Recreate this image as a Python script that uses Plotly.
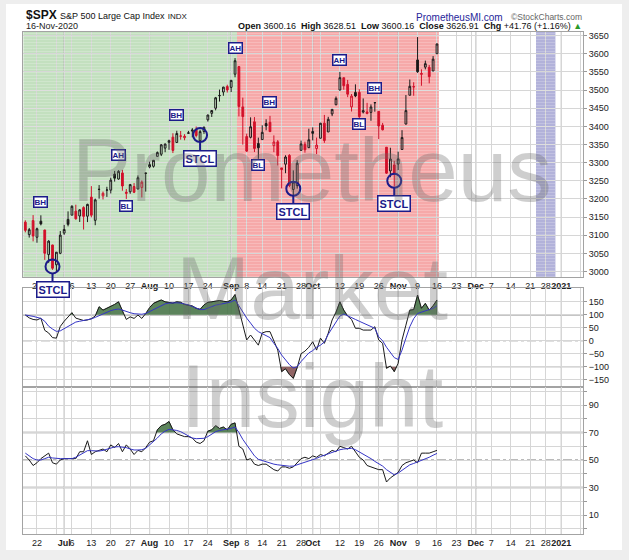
import numpy as np
import pandas as pd
import plotly.graph_objects as go

# ---------------- calendar ----------------
first_day = "2020-06-17"
last_day = "2020-11-16"
axis_last_day = "2021-01-12"
holidays = ["2020-07-03", "2020-09-07", "2020-11-26", "2020-12-25", "2021-01-01"]

# ---------------- daily candles ($SPX) ----------------
opens = [3136.13, 3101.64, 3140.29, 3094.42, 3138.70, 3114.40, 3046.60, 3073.20, 3018.59, 3050.20,
         3105.92, 3143.64, 3155.29, 3166.44, 3153.07, 3176.17, 3152.47, 3205.08, 3141.11, 3225.98,
         3208.36, 3224.21, 3224.29, 3268.52, 3254.86, 3271.64, 3218.58, 3219.84, 3234.27, 3227.22,
         3231.76, 3270.45, 3288.26, 3289.92, 3317.37, 3323.17, 3340.05, 3356.04, 3370.34, 3355.46,
         3372.95, 3368.66, 3380.86, 3387.04, 3392.51, 3360.48, 3386.01, 3418.09, 3435.95, 3449.97,
         3485.14, 3494.69, 3509.73, 3507.44, 3543.76, 3564.74, 3453.60, 3371.88, 3369.82, 3412.56,
         3352.70, 3363.56, 3407.73, 3411.23, 3346.86, 3357.38, 3285.57, 3295.75, 3320.11, 3226.14,
         3236.66, 3333.90, 3350.92, 3341.21, 3385.87, 3338.94, 3367.27, 3408.74, 3384.56, 3434.28,
         3459.67, 3500.02, 3534.01, 3515.47, 3453.72, 3493.50, 3493.66, 3439.38, 3439.91, 3438.50,
         3464.90, 3441.42, 3403.15, 3342.48, 3277.17, 3293.59, 3296.20, 3336.25, 3406.46, 3485.74,
         3508.34, 3583.04, 3543.26, 3563.22, 3562.67, 3552.57, 3600.16]
highs = [3141.16, 3120.00, 3155.53, 3120.92, 3154.90, 3115.01, 3086.25, 3073.73, 3053.89, 3111.51,
         3128.44, 3165.81, 3182.59, 3184.15, 3171.80, 3179.78, 3186.82, 3235.32, 3200.95, 3238.28,
         3220.39, 3233.52, 3258.61, 3277.29, 3279.32, 3279.99, 3227.26, 3241.43, 3243.72, 3264.74,
         3250.92, 3272.17, 3302.73, 3306.84, 3330.77, 3351.03, 3352.54, 3363.29, 3381.01, 3387.89,
         3387.24, 3378.51, 3387.59, 3395.06, 3399.54, 3390.80, 3399.96, 3432.09, 3444.21, 3481.07,
         3501.38, 3509.23, 3514.77, 3528.03, 3588.11, 3564.85, 3479.15, 3379.97, 3424.77, 3425.55,
         3368.95, 3402.93, 3419.48, 3428.92, 3375.17, 3362.27, 3285.57, 3320.31, 3323.35, 3278.70,
         3306.88, 3360.74, 3357.92, 3393.56, 3397.18, 3369.10, 3409.57, 3431.56, 3426.26, 3447.28,
         3482.34, 3549.85, 3534.01, 3527.94, 3489.08, 3515.76, 3502.42, 3476.93, 3464.86, 3460.53,
         3466.46, 3441.42, 3409.51, 3342.48, 3341.05, 3304.93, 3330.14, 3389.49, 3486.25, 3529.05,
         3521.58, 3645.99, 3557.22, 3581.16, 3569.02, 3593.66, 3628.51]
lows = [3108.03, 3093.51, 3083.11, 3079.39, 3127.12, 3032.13, 3024.01, 3004.63, 2999.74, 3047.83,
        3101.17, 3124.52, 3155.29, 3142.93, 3136.53, 3115.70, 3136.22, 3149.43, 3127.66, 3200.76,
        3198.59, 3205.65, 3215.16, 3247.77, 3253.10, 3222.66, 3200.05, 3214.25, 3216.17, 3227.22,
        3204.13, 3220.26, 3284.53, 3286.37, 3317.37, 3318.14, 3328.72, 3335.44, 3326.44, 3355.46,
        3363.35, 3361.64, 3379.22, 3370.15, 3369.66, 3354.69, 3379.31, 3413.13, 3425.84, 3444.15,
        3468.35, 3484.32, 3493.25, 3494.60, 3535.23, 3427.41, 3349.63, 3329.27, 3366.84, 3329.25,
        3310.47, 3363.56, 3389.25, 3384.45, 3328.82, 3292.40, 3229.10, 3270.95, 3232.57, 3209.45,
        3228.44, 3332.91, 3327.54, 3340.47, 3361.39, 3323.69, 3367.27, 3354.54, 3384.56, 3428.15,
        3458.07, 3499.61, 3500.86, 3480.55, 3440.89, 3480.45, 3419.93, 3435.65, 3433.06, 3415.34,
        3440.45, 3364.86, 3388.71, 3268.89, 3259.82, 3233.94, 3279.74, 3336.25, 3405.17, 3485.74,
        3484.34, 3547.48, 3511.91, 3557.00, 3518.58, 3552.57, 3600.16]
closes = [3113.49, 3115.34, 3097.74, 3117.86, 3131.29, 3050.33, 3083.76, 3009.05, 3053.24, 3100.29,
          3115.86, 3130.01, 3179.72, 3145.32, 3169.94, 3152.05, 3185.04, 3155.22, 3197.52, 3226.56,
          3215.57, 3224.73, 3251.84, 3257.30, 3276.02, 3235.66, 3215.63, 3239.41, 3218.44, 3258.44,
          3246.22, 3271.12, 3294.61, 3306.51, 3327.77, 3349.16, 3351.28, 3360.47, 3333.69, 3380.35,
          3373.43, 3372.85, 3381.99, 3389.78, 3374.85, 3385.51, 3397.16, 3431.28, 3443.62, 3478.73,
          3484.55, 3508.01, 3500.31, 3526.65, 3580.84, 3455.06, 3426.96, 3331.84, 3398.96, 3339.19,
          3340.97, 3383.54, 3401.20, 3385.49, 3357.01, 3319.47, 3281.06, 3315.57, 3236.92, 3246.59,
          3298.46, 3351.60, 3335.47, 3363.00, 3380.80, 3348.42, 3408.60, 3360.97, 3419.44, 3446.83,
          3477.14, 3534.22, 3511.93, 3488.67, 3483.34, 3483.81, 3426.92, 3443.12, 3435.56, 3453.49,
          3465.39, 3400.97, 3390.68, 3271.03, 3310.11, 3269.96, 3310.24, 3369.16, 3443.44, 3510.45,
          3509.44, 3550.50, 3545.53, 3572.66, 3537.01, 3585.15, 3626.91]
close_before_first = 3124.74

# ---------------- indicators ----------------
cci = [99, 88, 82, 80, 87, 40, 30, 12, 10, 55,
       75, 92, 108, 87, 82, 78, 80, 85, 95, 131,
       118, 125, 132, 140, 150, 112, 82, 92, 86, 99,
       86, 105, 128, 144, 152, 157, 150, 148, 145, 150,
       148, 140, 138, 134, 125, 121, 138, 148, 150, 153,
       155, 152, 150, 157, 178, 120, 60, 3, 22, 0,
       -17, 30, 35, 35, 0, -36, -119, -108, -130, -145,
       -104, -50, -40, -25, -4, -36, 10, -10, 29, 80,
       110, 150, 118, 95, 82, 48, 48, 41, 41, 41,
       54, 3, -10, -106, -97, -119, -87, 3, 60, 118,
       120, 176, 125, 144, 118, 135, 157]
cci_signal = [99, 97, 94, 90, 86, 75, 56, 45, 36, 38,
              47, 56, 62, 72, 75, 78, 80, 84, 90, 97,
              104, 110, 116, 120, 122, 118, 112, 108, 104, 102,
              102, 105, 113, 120, 128, 135, 142, 145, 146, 146,
              145, 142, 138, 132, 126, 120, 120, 126, 133, 137,
              140, 142, 146, 150, 157, 135, 110, 87, 68, 48,
              35, 28, 22, 12, -10, -30, -55, -74, -92, -105,
              -100, -80, -62, -47, -38, -25, -17, -5, 25, 50,
              73, 95, 103, 95, 88, 82, 75, 68, 60, 55,
              48, 15, 0, -25, -45, -65, -72, -36, 10, 54,
              85, 105, 110, 115, 118, 125, 135]
rsi = [53, 50, 46, 48, 51, 53, 55, 48, 47, 50,
       51, 51, 51, 51, 56, 56, 64, 54, 56, 57,
       58, 56, 61, 59, 62, 56, 61, 58, 54, 57,
       56, 59, 63, 64, 72, 75, 76, 78, 72, 69,
       68, 67, 67, 66, 63, 62, 64, 71, 72, 75,
       73, 74, 72, 76, 77, 60, 58, 50, 51, 47,
       46, 47, 47, 45, 43, 42, 45, 45, 44, 45,
       48, 51, 52, 51, 53, 52, 54, 53, 55, 57,
       56, 60, 59, 58, 60, 56, 52, 50, 46, 45,
       44, 43, 43, 34, 37, 39, 41, 46, 48, 49,
       50, 48, 55, 55, 55, 56, 57]
rsi_signal = [55, 53, 51, 50, 50, 51, 52, 51.5, 51, 51,
              51, 51, 51, 52, 53.5, 55, 56.8, 56.8, 56.6, 56.5,
              57, 58, 59, 59.5, 59.7, 59.5, 59, 58, 57.3, 57.3,
              57.5, 58.5, 61, 63, 66, 69, 71, 72.3, 72, 71.5,
              70.6, 69, 67.5, 66, 65.5, 65.5, 65.8, 67, 69, 70.6,
              71.5, 72, 72.3, 73, 74, 70, 65, 61, 57, 53,
              50.5, 49.5, 48.5, 48, 47, 46.5, 46, 45.6, 45.5, 45.6,
              46.5, 47.5, 48.5, 49.5, 50.5, 51.2, 52.5, 53.5, 54.5, 56,
              56.8, 57.5, 58, 58.3, 58.5, 57.5, 56, 54.5, 53, 51,
              49, 47.5, 45.6, 43, 41, 39.2, 40.5, 42.5, 45, 46.5,
              47.5, 48.5, 49.5, 51, 52, 53.5, 54.8]

# ---------------- ticks ----------------
tick_dates = ["2020-06-22", "2020-07-01", "2020-07-06", "2020-07-13", "2020-07-20", "2020-07-27",
              "2020-08-03", "2020-08-10", "2020-08-17", "2020-08-24", "2020-09-01", "2020-09-08",
              "2020-09-14", "2020-09-21", "2020-09-28", "2020-10-01", "2020-10-12", "2020-10-19",
              "2020-10-26", "2020-11-02", "2020-11-09", "2020-11-16", "2020-11-23", "2020-12-01",
              "2020-12-07", "2020-12-14", "2020-12-21", "2020-12-28", "2021-01-04"]
tick_labels = ["22", "Jul", "6", "13", "20", "27", "Aug", "10", "17", "24", "Sep", "8", "14", "21",
               "28", "Oct", "12", "19", "26", "Nov", "9", "16", "23", "Dec", "7", "14", "21", "28", "2021"]
bold_ticks = ["Jul", "Aug", "Sep", "Oct", "Nov", "Dec", "2021"]
price_ticks = [3000, 3050, 3100, 3150, 3200, 3250, 3300, 3350, 3400, 3450, 3500, 3550, 3600, 3650]
cci_ticks = [-150, -100, -50, 0, 50, 100, 150]
rsi_ticks = [0, 10, 20, 30, 40, 50, 60, 70, 80, 90, 100]
rsi_tick_labels = ["", "10", "", "30", "", "50", "", "70", "", "90", ""]

# ---------------- annotations ----------------
label_texts = ["BH", "AH", "BL", "BH", "AH", "BH", "BL", "AH", "BH", "BL"]
label_dates = ["2020-06-23", "2020-07-22", "2020-07-24", "2020-08-12", "2020-09-02",
               "2020-09-16", "2020-09-11", "2020-10-12", "2020-10-23", "2020-10-19"]
label_prices = [3192, 3321, 3181, 3432, 3616, 3467, 3294, 3583, 3506, 3407]
stcl_dates = ["2020-06-26", "2020-08-20", "2020-09-24", "2020-10-30"]
stcl_prices = [3014, 3376, 3228, 3250]

shade_starts = ["2020-06-17", "2020-09-03", "2020-12-23"]
shade_ends = ["2020-09-02", "2020-11-16", "2020-12-30"]
shade_colors = ["#c3e0bf", "#f6a9a9", "#b2b2da"]

cci_levels = [100, -100]
cci_mid = 0
rsi_levels = [70, 30]
rsi_mid = 50

# ---------------- derived positions ----------------
cal = pd.bdate_range(first_day, axis_last_day)
cal = cal[~cal.isin(pd.to_datetime(holidays))]
cal_str = list(cal.strftime("%Y-%m-%d"))
pos = {d: i for i, d in enumerate(cal_str)}
n = len(closes)
xi = np.arange(n)

week_starts, month_starts = [], []
for i in range(1, len(cal)):
    if cal[i].isocalendar()[1] != cal[i - 1].isocalendar()[1]:
        week_starts.append(i)
    if cal[i].month != cal[i - 1].month:
        month_starts.append(i)
grid_pos = sorted(set(week_starts) | set(month_starts))

x_range = [-0.6, 143.6]
price_range = [2985, 3660]
cci_range = [-177, 203]
rsi_range = [-3.8, 103.3]

NAVY = "#1b1b8a"
RED = "#d2102a"
BLACK = "#1a1a1a"
FONT = "Liberation Sans, Arial, sans-serif"

W, H = 629, 560
ML, MR, MT, MB = 23, 46, 32, 26
PW, PH = W - ML - MR, H - MT - MB


def px_x(px):
    return (px - ML) / PW


def px_y(py):
    return (H - MB - py) / PH


fig = go.Figure()

# stripes over shaded periods (pattern-filled bars)
for s, e in zip(shade_starts, shade_ends):
    x0 = max(pos[s] - 0.5, x_range[0])
    x1 = pos[e] + 0.5
    fig.add_trace(go.Bar(
        x=[(x0 + x1) / 2], width=[x1 - x0], base=[price_range[0]],
        y=[price_range[1] - price_range[0]],
        marker=dict(color="rgba(0,0,0,0)", line=dict(width=0),
                    pattern=dict(shape="-", fgcolor="rgba(255,255,255,0.40)",
                                 bgcolor="rgba(0,0,0,0)", size=3, solidity=0.34)),
        xaxis="x", yaxis="y", showlegend=False, hoverinfo="skip"))

# candles: black = close above previous close, red = below; hollow = close above open
prev = [close_before_first] + closes[:-1]
up = [c >= p for c, p in zip(closes, prev)]
for flag, col in [(True, BLACK), (False, RED)]:
    idx = [i for i in range(n) if up[i] == flag]
    fig.add_trace(go.Candlestick(
        x=[xi[i] for i in idx],
        open=[opens[i] for i in idx], high=[highs[i] for i in idx],
        low=[lows[i] for i in idx], close=[closes[i] for i in idx],
        increasing=dict(line=dict(color=col, width=1), fillcolor="rgba(0,0,0,0)"),
        decreasing=dict(line=dict(color=col, width=1), fillcolor=col),
        whiskerwidth=0, xaxis="x", yaxis="y", showlegend=False, hoverinfo="skip"))

# STCL circles
fig.add_trace(go.Scatter(
    x=[pos[d] for d in stcl_dates], y=stcl_prices, mode="markers",
    marker=dict(symbol="circle-open", size=14, color=NAVY, line=dict(width=2, color=NAVY)),
    xaxis="x", yaxis="y", showlegend=False, hoverinfo="skip", cliponaxis=False))


def threshold_polys(xs, ys, thr, above):
    def inside(v):
        return v > thr if above else v < thr
    polys, cur = [], []
    for k in range(len(xs)):
        x, y = xs[k], ys[k]
        if k > 0:
            xp, yp = xs[k - 1], ys[k - 1]
            if inside(yp) != inside(y):
                t = (thr - yp) / (y - yp)
                cur.append((xp + t * (x - xp), thr))
                if inside(yp):
                    polys.append(cur)
                    cur = []
        if inside(y):
            if not cur:
                cur.append((x, thr))
            cur.append((x, y))
    if cur:
        cur.append((cur[-1][0], thr))
        polys.append(cur)
    return polys


def add_fills(values, thr, above, color, xa, ya):
    for poly in threshold_polys(list(xi), values, thr, above):
        fig.add_trace(go.Scatter(
            x=[p[0] for p in poly], y=[p[1] for p in poly], fill="toself",
            fillcolor=color, mode="lines", line=dict(width=0.6, color="rgba(40,70,40,0.8)"),
            xaxis=xa, yaxis=ya, showlegend=False, hoverinfo="skip"))


GREEN_FILL = "rgba(70,115,70,0.88)"
BROWN_FILL = "rgba(130,80,80,0.88)"
add_fills(cci, cci_levels[0], True, GREEN_FILL, "x2", "y2")
add_fills(cci, cci_levels[1], False, BROWN_FILL, "x2", "y2")
add_fills(rsi, rsi_levels[0], True, GREEN_FILL, "x3", "y3")
add_fills(rsi, rsi_levels[1], False, BROWN_FILL, "x3", "y3")

for vals, col, xa, ya in [(cci, BLACK, "x2", "y2"), (cci_signal, "#3535c5", "x2", "y2"),
                          (rsi, BLACK, "x3", "y3"), (rsi_signal, "#3535c5", "x3", "y3")]:
    fig.add_trace(go.Scatter(x=xi, y=vals, mode="lines", line=dict(color=col, width=1),
                             xaxis=xa, yaxis=ya, showlegend=False, hoverinfo="skip"))

# ---------------- shapes ----------------
shapes = [dict(type="rect", xref="paper", yref="paper", x0=px_x(6), x1=px_x(622),
               y0=px_y(550), y1=px_y(4), fillcolor="white", line=dict(width=0), layer="below")]
for s, e, c in zip(shade_starts, shade_ends, shade_colors):
    shapes.append(dict(type="rect", xref="x", yref="y domain",
                       x0=max(pos[s] - 0.5, x_range[0]), x1=pos[e] + 0.5, y0=0, y1=1,
                       fillcolor=c, line=dict(width=0), layer="below"))
for xref, yref in [("x", "y domain"), ("x2", "y2 domain"), ("x3", "y3 domain")]:
    for m in month_starts:
        shapes.append(dict(type="line", xref=xref, yref=yref, x0=m, x1=m, y0=0, y1=1,
                           line=dict(color="#a9a9a9", width=1), layer="below"))
for lv in cci_levels:
    shapes.append(dict(type="line", xref="x2 domain", yref="y2", x0=0, x1=1, y0=lv, y1=lv,
                       line=dict(color="#8c8c8c", width=1.3), layer="below"))
shapes.append(dict(type="line", xref="x2 domain", yref="y2", x0=0, x1=1, y0=cci_mid, y1=cci_mid,
                   line=dict(color="#777", width=1, dash="dashdot"), layer="below"))
for lv in rsi_levels:
    shapes.append(dict(type="line", xref="x3 domain", yref="y3", x0=0, x1=1, y0=lv, y1=lv,
                       line=dict(color="#8c8c8c", width=1.3), layer="below"))
shapes.append(dict(type="line", xref="x3 domain", yref="y3", x0=0, x1=1, y0=rsi_mid, y1=rsi_mid,
                   line=dict(color="#777", width=1, dash="dashdot"), layer="below"))

# ---------------- annotations ----------------
ann = []
for t, d, p in zip(label_texts, label_dates, label_prices):
    ann.append(dict(x=pos[d], y=p, xref="x", yref="y", text=f"<b>{t}</b>", showarrow=False,
                    font=dict(family=FONT, size=8, color=NAVY), bgcolor="white",
                    bordercolor=NAVY, borderwidth=1.5, borderpad=0))
for d, p in zip(stcl_dates, stcl_prices):
    ann.append(dict(x=pos[d], y=p, xref="x", yref="y", text="<b>STCL</b>", showarrow=True,
                    ax=0, ay=23, arrowhead=0, arrowwidth=2, arrowcolor=NAVY, standoff=7,
                    font=dict(family=FONT, size=11, color=NAVY), bgcolor="white",
                    bordercolor=NAVY, borderwidth=1.5, borderpad=1))

wm_font = dict(family=FONT, size=89, color="rgba(105,105,105,0.33)")
for word, py in [("Prometheus", 170), ("Market", 288), ("Insight", 396)]:
    ann.append(dict(x=px_x(312), y=px_y(py), xref="paper", yref="paper", text=word,
                    showarrow=False, font=wm_font, xanchor="center", yanchor="middle"))

last = n - 1
chg = closes[last] - closes[last - 1]
pct = chg / closes[last - 1] * 100
last_date = pd.Timestamp(cal_str[last]).strftime("%d-%b-%Y")

ann.append(dict(x=px_x(24), y=px_y(15), xref="paper", yref="paper", xanchor="left",
                yanchor="middle", showarrow=False,
                text="<b>$SPX</b> <span style='font-size:9px'>S&amp;P 500 Large Cap Index</span>"
                     " <span style='font-size:8px'>INDX</span>",
                font=dict(family=FONT, size=12, color="#111")))
ann.append(dict(x=px_x(24), y=px_y(26), xref="paper", yref="paper", xanchor="left",
                yanchor="middle", showarrow=False, text=last_date,
                font=dict(family=FONT, size=9, color="#222")))
ann.append(dict(x=px_x(505), y=px_y(17), xref="paper", yref="paper", xanchor="right",
                yanchor="middle", showarrow=False, text="PrometheusMI.com",
                font=dict(family=FONT, size=10, color="#26269a")))
ann.append(dict(x=px_x(584), y=px_y(17), xref="paper", yref="paper", xanchor="right",
                yanchor="middle", showarrow=False, text="©StockCharts.com",
                font=dict(family=FONT, size=8.5, color="#666")))
ohlc_text = (f"<b>Open</b> {opens[last]:.2f}  <b>High</b> {highs[last]:.2f}  "
             f"<b>Low</b> {lows[last]:.2f}  <b>Close</b> {closes[last]:.2f}  "
             f"<b>Chg</b> {chg:+.2f} ({pct:+.2f}%) <span style='color:#2a9a2a'>▲</span>")
ann.append(dict(x=px_x(584), y=px_y(26), xref="paper", yref="paper", xanchor="right",
                yanchor="middle", showarrow=False, text=ohlc_text,
                font=dict(family=FONT, size=9, color="#111")))

# ---------------- axes ----------------
tick_pos = [pos[d] for d in tick_dates]
tick_text = [f"<b>{t}</b>" if t in bold_ticks else t for t in tick_labels]

GRID = "#d6d6d6"
FRAME = "#a3a3a3"


def xaxis(anchor, labels):
    return dict(anchor=anchor, domain=[0, 1], range=x_range, tickmode="array",
                tickvals=tick_pos, ticktext=tick_text, showticklabels=labels, showgrid=False,
                tickangle=0, automargin=False,
                minor=dict(tickmode="array", tickvals=grid_pos, showgrid=True,
                           gridcolor=GRID, gridwidth=1, ticks=""),
                ticks="", showline=True, mirror=True, linecolor=FRAME, linewidth=1,
                zeroline=False, tickfont=dict(family=FONT, size=9, color="#222"),
                rangeslider=dict(visible=False), fixedrange=True)


def yaxis(anchor, dom, rng, tv, tt=None):
    d = dict(anchor=anchor, domain=dom, range=rng, side="right", tickmode="array",
             tickvals=tv, showgrid=True, gridcolor=GRID, gridwidth=1, showline=True,
             mirror=True, linecolor=FRAME, linewidth=1, zeroline=False, ticks="outside",
             ticklen=3, tickcolor="#999", tickfont=dict(family=FONT, size=9, color="#222"),
             automargin=False, fixedrange=True)
    if tt is not None:
        d["ticktext"] = tt
    return d


fig.update_layout(
    width=W, height=H, margin=dict(l=ML, r=MR, t=MT, b=MB, autoexpand=False),
    paper_bgcolor="#eeeeee", plot_bgcolor="white", showlegend=False, hovermode=False,
    boxgap=0.35, bargap=0,
    xaxis=xaxis("y", True), xaxis2=xaxis("y2", False), xaxis3=xaxis("y3", True),
    yaxis=yaxis("x", [0.512, 1.0], price_range, price_ticks),
    yaxis2=yaxis("x2", [0.2934, 0.490], cci_range, cci_ticks),
    yaxis3=yaxis("x3", [0.0, 0.2934], rsi_range, rsi_ticks, rsi_tick_labels),
    shapes=shapes, annotations=ann,
)

fig.write_html("out.html", config={"displayModeBar": False},
               post_script="document.body.style.margin='0px';")
